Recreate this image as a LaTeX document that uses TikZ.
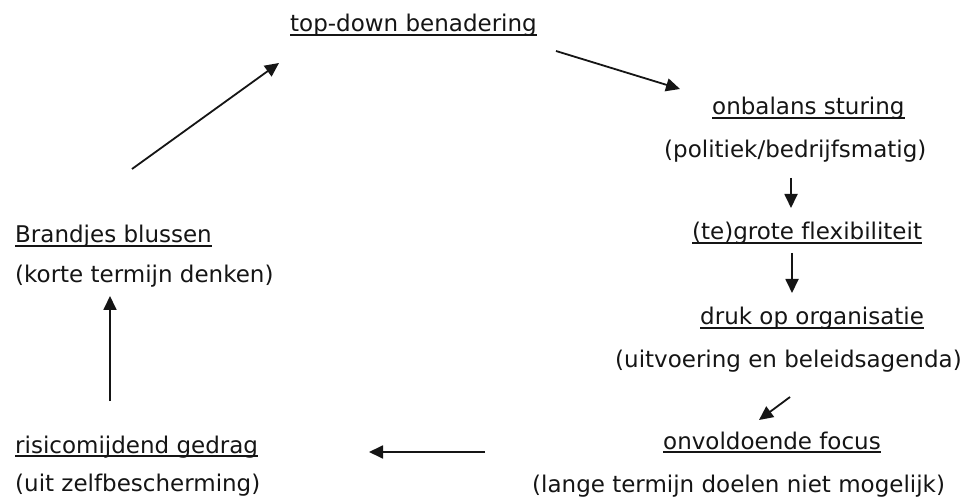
\documentclass[tikz,border=0pt]{standalone}
\usepackage{fontspec}
\setmainfont[Ligatures=NoCommon]{DejaVu Sans}
\usetikzlibrary{arrows.meta}
\definecolor{ink}{HTML}{151515}
\tikzset{
  txt/.style={anchor=base west, inner sep=0pt, font=\fontsize{23}{27}\selectfont, text=ink},
  ulline/.style={draw=ink, line width=1.5pt},
  conn/.style={draw=ink, line width=1.8pt, -{Triangle[length=14pt,width=13pt]}},
}
\newcommand{\ulnode}[1]{\draw[ulline] ([yshift=-3pt]#1.base west) -- ([yshift=-3pt]#1.base east);}
\begin{document}
\begin{tikzpicture}[x=1pt,y=-1pt]
\useasboundingbox[fill=white] (0,0) rectangle (974,502);
% texts
\node[txt] (td) at (290,32) {top-down benadering};
\node[txt] (ob) at (712,115) {onbalans sturing};
\node[txt] (pb) at (664,158) {(politiek/bedrijfsmatig)};
\node[txt] (gf) at (692,240) {(te)grote flexibiliteit};
\node[txt] (dr) at (700,325) {druk op organisatie};
\node[txt] (ub) at (615,367) {(uitvoering en beleidsagenda)};
\node[txt] (of) at (663,449) {onvoldoende focus};
\node[txt] (lt) at (532,492) {(lange termijn doelen niet mogelijk)};
\node[txt] (rg) at (15,453) {risicomijdend gedrag};
\node[txt] (uz) at (15,491) {(uit zelfbescherming)};
\node[txt] (bb) at (15,243) {Brandjes blussen};
\node[txt] (kt) at (15,283) {(korte termijn denken)};
% underlines
\ulnode{td}
\ulnode{ob}
\ulnode{gf}
\ulnode{dr}
\ulnode{of}
\ulnode{rg}
\ulnode{bb}
% arrow end points
\coordinate (a1s) at (132,169); \coordinate (a1e) at (279,63);
\coordinate (a2s) at (556,51);  \coordinate (a2e) at (680,89);
\coordinate (a3s) at (791,178); \coordinate (a3e) at (791,208);
\coordinate (a4s) at (792,253); \coordinate (a4e) at (792,293);
\coordinate (a5s) at (790,397); \coordinate (a5e) at (759,420);
\coordinate (a6s) at (485,452); \coordinate (a6e) at (369,452);
\coordinate (a7s) at (110,401); \coordinate (a7e) at (110,296);
\draw[conn] (a1s) -- (a1e);
\draw[conn] (a2s) -- (a2e);
\draw[conn] (a3s) -- (a3e);
\draw[conn] (a4s) -- (a4e);
\draw[conn] (a5s) -- (a5e);
\draw[conn] (a6s) -- (a6e);
\draw[conn] (a7s) -- (a7e);
\end{tikzpicture}
\end{document}
